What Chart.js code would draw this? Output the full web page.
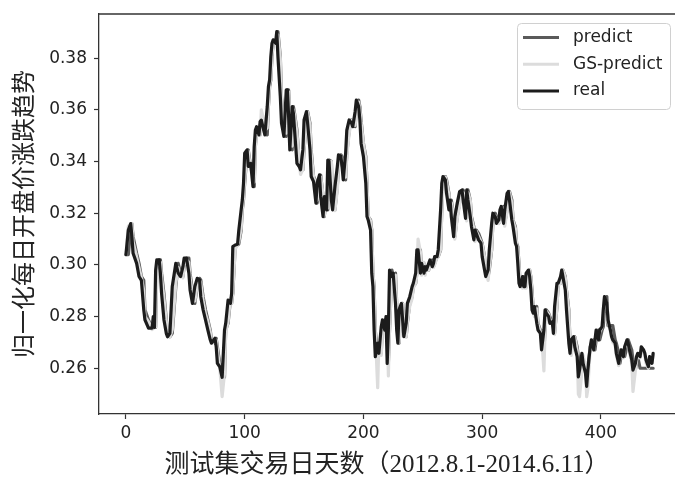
<!DOCTYPE html>
<html lang="zh">
<head>
<meta charset="UTF-8">
<title>归一化每日开盘价涨跌趋势</title>
<script src="https://cdn.jsdelivr.net/npm/chart.js"></script>
<style>
    html, body { margin: 0; padding: 0; background: #fff; overflow: hidden; }
    #wrap { width: 675px; height: 478px; }
</style>
</head>
<body>
<div id="wrap"><canvas id="trendChart" width="675" height="478"></canvas></div>
<script>
// trading day index within the test set
var dayIndex = [
    0, 2, 4, 5, 6, 9, 11, 13, 15, 16,
    19, 22, 23, 24, 25, 26, 28, 29, 30, 32,
    34, 35, 37, 39, 42, 44, 46, 48, 49, 51,
    53, 54, 56, 58, 60, 62, 63, 65, 67, 69,
    71, 72, 75, 76, 77, 79, 81, 83, 84, 86,
    88, 89, 90, 92, 94, 95, 97, 98, 99, 100,
    102, 103, 105, 107, 108, 109, 110, 112, 113, 114,
    116, 117, 119, 120, 121, 122, 123, 124, 126, 127,
    128, 130, 131, 133, 135, 136, 137, 138, 140, 141,
    142, 144, 146, 147, 149, 150, 152, 153, 155, 156,
    158, 160, 161, 163, 164, 166, 167, 169, 170, 171,
    173, 174, 176, 178, 179, 181, 182, 183, 185, 186,
    188, 190, 191, 193, 194, 196, 197, 198, 200, 202,
    203, 204, 206, 207, 208, 209, 210, 212, 213, 215,
    216, 218, 219, 220, 221, 222, 224, 225, 227, 228,
    229, 230, 232, 233, 234, 236, 237, 239, 241, 242,
    244, 245, 246, 248, 249, 251, 252, 253, 255, 256,
    258, 259, 260, 262, 263, 265, 266, 267, 269, 270,
    272, 273, 274, 276, 277, 279, 281, 283, 284, 286,
    287, 288, 290, 291, 293, 294, 295, 297, 299, 300,
    302, 303, 305, 306, 308, 309, 311, 312, 314, 315,
    316, 318, 319, 321, 322, 323, 325, 326, 328, 329,
    330, 331, 332, 334, 335, 336, 337, 339, 340, 341,
    342, 343, 344, 346, 347, 349, 350, 352, 353, 354,
    356, 357, 359, 360, 361, 363, 364, 366, 367, 368,
    370, 371, 373, 374, 375, 377, 378, 380, 381, 382,
    384, 385, 387, 388, 389, 391, 392, 394, 395, 396,
    398, 399, 401, 402, 403, 405, 406, 408, 409, 410,
    412, 413, 415, 416, 417, 419, 420, 422, 423, 424,
    426, 427, 429, 430, 431, 433, 434, 436, 437, 438,
    440, 441, 443, 444
];

var realValues = [
    .3040, .3135, .3160, .3110, .3045, .3006, .2955, .2940, .2826, .2787,
    .2755, .2755, .2800, .2758, .2980, .3020, .3020, .2968, .2890, .2787,
    .2735, .2722, .2735, .2916, .3006, .2968, .2955, .2993, .3026, .3026,
    .2968, .2903, .2851, .2916, .2948, .2942, .2877, .2826, .2787, .2748,
    .2710, .2697, .2716, .2683, .2619, .2606, .2565, .2748, .2774, .2864,
    .2851, .2890, .3071, .3077, .3080, .3132, .3213, .3251, .3316, .3432,
    .3445, .3381, .3393, .3303, .3458, .3522, .3535, .3503, .3555, .3560,
    .3522, .3503, .3613, .3690, .3716, .3806, .3858, .3871, .3858, .3903,
    .3806, .3651, .3548, .3497, .3677, .3677, .3574, .3445, .3613, .3587,
    .3522, .3393, .3380, .3368, .3445, .3561, .3593, .3548, .3445, .3342,
    .3322, .3239, .3316, .3348, .3264, .3187, .3264, .3213, .3406, .3401,
    .3251, .3213, .3303, .3380, .3426, .3420, .3380, .3329, .3432, .3522,
    .3561, .3548, .3535, .3593, .3638, .3613, .3561, .3471, .3419, .3316,
    .3187, .3174, .3135, .2968, .2916, .2748, .2645, .2697, .2658, .2761,
    .2787, .2748, .2800, .2619, .2748, .2980, .2955, .2968, .2851, .2748,
    .2697, .2826, .2851, .2787, .2722, .2774, .2851, .2877, .2916, .2929,
    .2968, .3058, .3058, .2968, .3006, .2968, .2993, .2980, .3006, .3019,
    .2993, .3006, .3032, .3032, .3058, .3213, .3316, .3342, .3329, .3277,
    .3213, .3251, .3187, .3109, .3187, .3239, .3284, .3290, .3250, .3180,
    .3290, .3251, .3187, .3148, .3097, .3135, .3122, .3097, .3084, .3032,
    .2980, .2955, .2980, .3058, .3161, .3200, .3187, .3161, .3174, .3213,
    .3226, .3161, .3213, .3277, .3284, .3251, .3174, .3148, .3084, .3071,
    .3006, .2929, .2916, .2955, .2916, .2916, .2968, .2980, .2955, .2903,
    .2826, .2813, .2839, .2774, .2748, .2735, .2671, .2748, .2826, .2813,
    .2800, .2774, .2780, .2735, .2839, .2929, .2929, .2955, .2980, .2955,
    .2903, .2826, .2697, .2658, .2710, .2722, .2683, .2645, .2567, .2593,
    .2658, .2619, .2581, .2530, .2593, .2683, .2710, .2671, .2710, .2748,
    .2710, .2748, .2761, .2826, .2877, .2851, .2787, .2748, .2722, .2710,
    .2697, .2658, .2619, .2645, .2671, .2645, .2683, .2710, .2697, .2671,
    .2632, .2593, .2619, .2645, .2658, .2645, .2683, .2671, .2658, .2632,
    .2606, .2645, .2619, .2658
];

var predictValues = [
    .3040, .3040, .3135, .3160, .3110, .3045, .3006, .2955, .2940, .2826,
    .2787, .2755, .2755, .2800, .2758, .2980, .3020, .3020, .2968, .2890,
    .2787, .2735, .2722, .2735, .2916, .3006, .2968, .2955, .2993, .3026,
    .3026, .2968, .2903, .2851, .2916, .2948, .2942, .2877, .2826, .2787,
    .2748, .2710, .2697, .2716, .2683, .2619, .2606, .2565, .2748, .2774,
    .2864, .2851, .2890, .3071, .3077, .3080, .3132, .3213, .3251, .3316,
    .3432, .3445, .3381, .3393, .3303, .3458, .3522, .3535, .3503, .3555,
    .3560, .3522, .3503, .3613, .3690, .3716, .3806, .3858, .3871, .3858,
    .3903, .3806, .3651, .3548, .3497, .3677, .3677, .3574, .3445, .3613,
    .3587, .3522, .3393, .3380, .3368, .3445, .3561, .3593, .3548, .3445,
    .3342, .3322, .3239, .3316, .3348, .3264, .3187, .3264, .3213, .3406,
    .3401, .3251, .3213, .3303, .3380, .3426, .3420, .3380, .3329, .3432,
    .3522, .3561, .3548, .3535, .3593, .3638, .3613, .3561, .3471, .3419,
    .3316, .3187, .3174, .3135, .2968, .2916, .2748, .2645, .2697, .2658,
    .2761, .2787, .2748, .2800, .2619, .2748, .2980, .2955, .2968, .2851,
    .2748, .2697, .2826, .2851, .2787, .2722, .2774, .2851, .2877, .2916,
    .2929, .2968, .3058, .3058, .2968, .3006, .2968, .2993, .2980, .3006,
    .3019, .2993, .3006, .3032, .3032, .3058, .3213, .3316, .3342, .3329,
    .3277, .3213, .3251, .3187, .3109, .3187, .3239, .3284, .3290, .3250,
    .3180, .3290, .3251, .3187, .3148, .3097, .3135, .3122, .3097, .3084,
    .3032, .2980, .2955, .2980, .3058, .3161, .3200, .3187, .3161, .3174,
    .3213, .3226, .3161, .3213, .3277, .3284, .3251, .3174, .3148, .3084,
    .3071, .3006, .2929, .2916, .2955, .2916, .2916, .2968, .2980, .2955,
    .2903, .2826, .2813, .2839, .2774, .2748, .2735, .2671, .2748, .2826,
    .2813, .2800, .2774, .2780, .2735, .2839, .2929, .2929, .2955, .2980,
    .2955, .2903, .2826, .2697, .2658, .2710, .2722, .2683, .2645, .2606,
    .2606, .2606, .2606, .2606, .2606, .2683, .2683, .2710, .2671, .2710,
    .2748, .2710, .2748, .2761, .2826, .2877, .2765, .2765, .2765, .2765,
    .2710, .2697, .2658, .2619, .2645, .2671, .2645, .2683, .2710, .2697,
    .2671, .2632, .2593, .2619, .2645, .2600, .2600, .2600, .2600, .2600,
    .2600, .2600, .2600, .2600
];

var gsPredictValues = [
    .3040, .3150, .3140, .3160, .3090, .3030, .2990, .2950, .2900, .2800,
    .2780, .2750, .2760, .2790, .2760, .2990, .3010, .3010, .2950, .2870,
    .2780, .2730, .2720, .2750, .2930, .2990, .2960, .2950, .3000, .3020,
    .3010, .2950, .2890, .2860, .2920, .2940, .2930, .2860, .2810, .2780,
    .2740, .2700, .2700, .2710, .2670, .2600, .2490, .2580, .2740, .2780,
    .2870, .2850, .2900, .3060, .3080, .3090, .3140, .3220, .3260, .3330,
    .3430, .3440, .3370, .3390, .3320, .3460, .3510, .3540, .3500, .3600,
    .3560, .3520, .3530, .3620, .3700, .3720, .3810, .3860, .3860, .3880,
    .3890, .3800, .3640, .3540, .3510, .3670, .3670, .3560, .3460, .3600,
    .3580, .3510, .3400, .3350, .3370, .3450, .3550, .3590, .3540, .3430,
    .3340, .3310, .3250, .3310, .3340, .3270, .3190, .3250, .3220, .3390,
    .3400, .3260, .3210, .3290, .3380, .3420, .3410, .3370, .3340, .3420,
    .3510, .3560, .3540, .3540, .3590, .3630, .3600, .3550, .3470, .3410,
    .3320, .3190, .3170, .3130, .2980, .2900, .2740, .2525, .2700, .2650,
    .2750, .2780, .2740, .2790, .2570, .2760, .2960, .2950, .2960, .2840,
    .2730, .2700, .2810, .2850, .2780, .2720, .2780, .2840, .2870, .2910,
    .2930, .2960, .3100, .3050, .2960, .3010, .2960, .2990, .2980, .3000,
    .3010, .2990, .3000, .3030, .3030, .3060, .3200, .3310, .3340, .3320,
    .3270, .3210, .3240, .3190, .3100, .3180, .3230, .3280, .3280, .3250,
    .3170, .3280, .3250, .3180, .3140, .3090, .3130, .3110, .3090, .3080,
    .3030, .2980, .2940, .2990, .3060, .3160, .3190, .3180, .3160, .3170,
    .3210, .3220, .3150, .3210, .3270, .3280, .3240, .3170, .3140, .3080,
    .3060, .3000, .2920, .2910, .2950, .2910, .2910, .2960, .2980, .2950,
    .2890, .2820, .2800, .2830, .2770, .2740, .2730, .2590, .2750, .2820,
    .2810, .2790, .2770, .2780, .2730, .2840, .2920, .2930, .2950, .2980,
    .2950, .2900, .2820, .2690, .2650, .2700, .2720, .2670, .2500, .2490,
    .2590, .2650, .2610, .2490, .2520, .2680, .2700, .2670, .2700, .2740,
    .2710, .2740, .2760, .2820, .2870, .2850, .2780, .2740, .2720, .2700,
    .2690, .2650, .2610, .2640, .2660, .2640, .2680, .2700, .2690, .2660,
    .2620, .2510, .2590, .2630, .2650, .2640, .2670, .2660, .2650, .2620,
    .2600, .2640, .2620, .2650
];

var xTicks = [0, 100, 200, 300, 400];
var yTicks = [0.26, 0.28, 0.30, 0.32, 0.34, 0.36, 0.38];

function toPoints(values) {
    return dayIndex.map(function (d, i) { return { x: d, y: values[i] }; });
}

var tickFont = { family: '"DejaVu Sans", sans-serif', size: 17 };
var titleFamily = '"Liberation Serif", "Noto Sans CJK SC", serif';

// top spine of the axes box (right spine falls off the canvas)
var frameTop = {
    id: 'frameTop',
    afterDraw: function (chart) {
        var a = chart.chartArea, ctx = chart.ctx;
        ctx.save();
        ctx.strokeStyle = '#333';
        ctx.lineWidth = 1.3;
        ctx.beginPath();
        ctx.moveTo(a.left, a.top);
        ctx.lineTo(a.right, a.top);
        ctx.stroke();
        ctx.restore();
    }
};

// legend box drawn inside the plot, upper right
var insideLegend = {
    id: 'insideLegend',
    afterDraw: function (chart) {
        var a = chart.chartArea, ctx = chart.ctx;
        var x0 = a.left + 418, y0 = a.top + 9, w = 153, h = 86;
        ctx.save();
        ctx.fillStyle = 'rgba(255,255,255,0.85)';
        ctx.strokeStyle = '#d0d0d0';
        ctx.lineWidth = 1;
        ctx.beginPath();
        ctx.roundRect(x0 + 0.5, y0 + 0.5, w, h, 4);
        ctx.fill();
        ctx.stroke();
        ctx.font = '17px "DejaVu Sans", sans-serif';
        ctx.textBaseline = 'middle';
        [0, 1, 2].forEach(function (di, row) {
            var ds = chart.data.datasets[di];
            var y = y0 + 14.5 + row * 26.7;
            ctx.strokeStyle = ds.borderColor;
            ctx.lineWidth = 3;
            ctx.beginPath();
            ctx.moveTo(x0 + 6, y);
            ctx.lineTo(x0 + 42, y);
            ctx.stroke();
            ctx.fillStyle = '#222';
            ctx.fillText(ds.label, x0 + 56, y);
        });
        ctx.restore();
    }
};

function lineSet(label, values, color, order) {
    return {
        label: label,
        data: toPoints(values),
        borderColor: color,
        borderWidth: 3.2,
        borderJoinStyle: 'round',
        borderCapStyle: 'round',
        pointRadius: 0,
        tension: 0,
        order: order
    };
}

var ctxTrend = document.getElementById('trendChart').getContext('2d');
var trendChart = new Chart(ctxTrend, {
    type: 'line',
    data: {
        datasets: [
            lineSet('predict', predictValues, '#5a5a5a', 3),
            lineSet('GS-predict', gsPredictValues, '#dcdcdc', 2),
            lineSet('real', realValues, '#1c1c1c', 1)
        ]
    },
    options: {
        responsive: false,
        animation: false,
        layout: { padding: { top: 14, left: 0, right: 0, bottom: 0 } },
        plugins: {
            legend: { display: false },
            tooltip: { enabled: false }
        },
        scales: {
            x: {
                type: 'linear',
                min: -22.7,
                max: 462.4,
                afterFit: function (s) { s.height = 64; },
                afterBuildTicks: function (s) { s.ticks = xTicks.map(function (v) { return { value: v }; }); },
                ticks: {
                    font: tickFont,
                    color: '#222',
                    padding: 4,
                    maxRotation: 0,
                    autoSkip: false,
                    callback: function (v) { return String(v); }
                },
                grid: { drawOnChartArea: false, tickLength: 5, tickColor: '#333', tickWidth: 1.2 },
                border: { color: '#333', width: 1.3 },
                title: {
                    display: true,
                    text: '测试集交易日天数（2012.8.1-2014.6.11）',
                    font: { family: titleFamily, size: 25, lineHeight: 1 },
                    color: '#222',
                    padding: { top: 0, bottom: 0 }
                }
            },
            y: {
                type: 'linear',
                min: 0.2423,
                max: 0.3971,
                // fixed axis width; labels never sit at the plot edges, so no extra padding
                afterFit: function (s) {
                    s.width = 99;
                    s.paddingTop = 0;
                    s.paddingBottom = 0;
                },
                afterBuildTicks: function (s) { s.ticks = yTicks.map(function (v) { return { value: v }; }); },
                ticks: {
                    font: tickFont,
                    color: '#222',
                    padding: 7,
                    callback: function (v) { return v.toFixed(2); }
                },
                grid: { drawOnChartArea: false, tickLength: 5, tickColor: '#333', tickWidth: 1.2 },
                border: { color: '#333', width: 1.3 },
                title: {
                    display: true,
                    text: '归一化每日开盘价涨跌趋势',
                    font: { family: titleFamily, size: 24, lineHeight: 1 },
                    color: '#222',
                    padding: { top: 14, bottom: 0 }
                }
            }
        }
    },
    plugins: [frameTop, insideLegend]
});
</script>
</body>
</html>
